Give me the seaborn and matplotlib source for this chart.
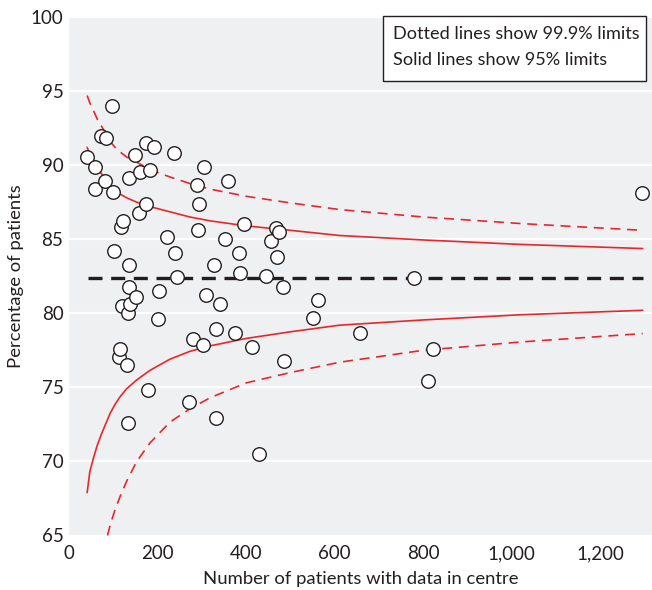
import matplotlib
matplotlib.use("Agg")
import matplotlib.pyplot as plt
from matplotlib.patches import Rectangle
import seaborn as sns
import pandas as pd

# Centre-level results: number of patients with data and percentage achieving the standard
centre_n = [41, 58, 59, 72, 81, 84, 98, 100, 101, 112, 115, 118, 121, 120, 132, 134, 134,
            136, 136, 136, 137, 150, 151, 158, 161, 173, 175, 178, 183, 192, 200, 204,
            222, 238, 239, 244, 270, 280, 290, 292, 293, 302, 305, 309, 328, 331, 331,
            341, 352, 359, 375, 384, 387, 395, 413, 430, 445, 456, 468, 469, 475, 483,
            486, 551, 563, 658, 780, 811, 822, 1295]
centre_pct = [90.55, 89.9, 88.4, 91.95, 88.95, 91.8, 94.0, 88.2, 84.2, 77.05, 77.6, 85.8,
              86.25, 80.5, 76.5, 80.0, 72.6, 83.25, 81.75, 89.1, 80.6, 90.7, 81.1, 86.75,
              89.55, 87.4, 91.5, 74.85, 89.65, 91.2, 79.6, 81.5, 85.15, 90.8, 84.1, 82.45,
              74.0, 78.25, 88.65, 85.65, 87.4, 77.85, 89.9, 81.25, 83.25, 78.95, 72.9,
              80.6, 85.0, 88.9, 78.65, 84.1, 82.7, 86.05, 77.75, 70.5, 82.5, 84.9, 85.75,
              83.8, 85.5, 81.8, 76.75, 79.65, 80.9, 78.7, 82.4, 75.4, 77.6, 88.1]

# Overall percentage across all centres
overall_pct = 82.35
overall_n = [43, 1296]

# Control limits
limit_n = [41, 47, 55, 64, 74, 93, 104, 115, 130, 153, 183, 228, 273, 319, 400, 500, 612,
           800, 1019, 1296]
upper_95 = [91.2, 90.75, 90.3, 89.8, 89.4, 88.65, 88.3, 88.05, 87.8, 87.5, 87.2, 86.85,
            86.5, 86.24, 85.9, 85.6, 85.25, 84.95, 84.65, 84.37]
lower_95 = [67.9, 69.3, 70.2, 71.1, 71.9, 73.25, 73.85, 74.35, 74.9, 75.5, 76.15, 76.9,
            77.43, 77.8, 78.3, 78.75, 79.2, 79.55, 79.9, 80.2]
upper_999 = [94.7, 94.2, 93.7, 93.1, 92.6, 91.6, 91.2, 90.9, 90.55, 90.2, 89.7, 89.2,
             88.76, 88.38, 87.9, 87.45, 87.0, 86.5, 86.06, 85.6]
lower_999_n = [87, 93, 104, 115, 130, 153, 183, 228, 273, 319, 400, 500, 612, 800, 1019,
               1296]
lower_999 = [65.0, 65.7, 66.75, 67.6, 68.65, 70.0, 71.25, 72.65, 73.55, 74.3, 75.3, 76.0,
             76.7, 77.5, 78.06, 78.63]

x_ticks = [0, 200, 400, 600, 800, 1000, 1200]
x_tick_labels = ["0", "200", "400", "600", "800", "1,000", "1,200"]
y_ticks = [65, 70, 75, 80, 85, 90, 95, 100]
note_lines = ["Dotted lines show 99.9% limits", "Solid lines show 95% limits"]

sns.set_theme(style="darkgrid")
plt.rcParams["font.family"] = ["Lato", "DejaVu Sans"]

W, H = 652, 590
ink = "#231f20"
red = "#e8262b"

fig = plt.figure(figsize=(W / 100, H / 100), dpi=100)
fig.patch.set_facecolor("white")
ax = fig.add_axes([69 / W, 1 - 535.5 / H, (652 - 69) / W, (535.5 - 17) / H])
ax.set_facecolor("#eff0f2")

limits = pd.DataFrame({"n": limit_n, "u95": upper_95, "l95": lower_95, "u999": upper_999})
low999 = pd.DataFrame({"n": lower_999_n, "l999": lower_999})

sns.lineplot(data=limits, x="n", y="u95", ax=ax, color=red, lw=1.2, estimator=None)
sns.lineplot(data=limits, x="n", y="l95", ax=ax, color=red, lw=1.2, estimator=None)
sns.lineplot(data=limits, x="n", y="u999", ax=ax, color=red, lw=1.2, estimator=None,
             linestyle=(0, (6, 4)))
sns.lineplot(data=low999, x="n", y="l999", ax=ax, color=red, lw=1.2, estimator=None,
             linestyle=(0, (6, 4)))

mean_df = pd.DataFrame({"n": overall_n, "pct": [overall_pct] * len(overall_n)})
sns.lineplot(data=mean_df, x="n", y="pct", ax=ax, color=ink, lw=2.4,
             linestyle=(0, (4.2, 2.6)), estimator=None)

centres = pd.DataFrame({"n": centre_n, "pct": centre_pct})
sns.scatterplot(data=centres, x="n", y="pct", ax=ax, s=95, color="white",
                edgecolor=ink, linewidth=1.0, zorder=5)

ax.set_xlim(0, 1317)
ax.set_ylim(65, 100)
ax.set_xticks(x_ticks)
ax.set_xticklabels(x_tick_labels)
ax.set_yticks(y_ticks)
ax.grid(axis="y", color="white", lw=1.6)
ax.grid(axis="x", visible=False)
for s in ax.spines.values():
    s.set_visible(False)
ax.tick_params(axis="x", direction="in", length=6, width=1.5, color="white",
               labelsize=13.5, labelcolor=ink, pad=7)
ax.tick_params(axis="y", length=0, labelsize=13.5, labelcolor=ink, pad=4)
ax.set_xlabel("Number of patients with data in centre", fontsize=13.3, color=ink,
              labelpad=6)
ax.set_ylabel("Percentage of patients", fontsize=13.3, color=ink, labelpad=5)

# Note box explaining the control limits
fig.patches.append(Rectangle((383 / W, 1 - 81 / H), (646 - 383) / W, (81 - 16) / H,
                             transform=fig.transFigure, facecolor="white",
                             edgecolor=ink, lw=1.0, zorder=9))
fig.text(393 / W, 1 - 34 / H, note_lines[0], fontsize=13.1, color=ink,
         va="center", ha="left", zorder=10)
fig.text(393 / W, 1 - 60 / H, note_lines[1], fontsize=13.1, color=ink,
         va="center", ha="left", zorder=10)

fig.savefig("out.png", dpi=100)
